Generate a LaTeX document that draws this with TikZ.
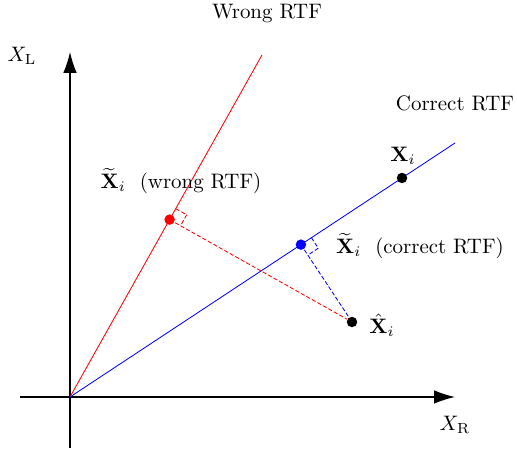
\documentclass[tikz,border=0pt]{standalone}
\usepackage{amsmath}
\usetikzlibrary{arrows.meta,calc}

\begin{document}
\begin{tikzpicture}[
  x=0.478pt, y=0.478pt,
  axis/.style={semithick, -{Latex[length=10pt,width=6.5pt]}},
  dot/.style={circle, fill=#1, inner sep=0pt, minimum size=5pt},
  proj/.style={dash pattern=on 2pt off 1pt, #1},
  lbl/.style={font=\normalsize},
]
\useasboundingbox (0,0) rectangle (517,450);
% ---------- axes ----------
\coordinate (O) at (70,53);
\coordinate (xs) at (20,53);
\coordinate (xe) at (455,53);
\coordinate (ys) at (70,2);
\coordinate (ye) at (70,398);
\draw[axis] (xs) -- (xe);
\draw[axis] (ys) -- (ye);
\node[lbl] (xr) at (455,25) {$X_{\mathrm{R}}$};
\node[lbl] (xl) at (22,394) {$X_{\mathrm{L}}$};

% ---------- RTF lines ----------
\coordinate (we) at (262,395);
\coordinate (ce) at (455,307);
\draw[red] (O) -- (we);
\draw[blue] (O) -- (ce);
\node[lbl] (wl) at (267,436) {Wrong RTF};
\node[lbl] (cl) at (455,347) {Correct RTF};

% ---------- points ----------
\node[dot=black] (xi) at (402,272) {};
\node[dot=black] (xh) at (352,128) {};
\coordinate (pw) at ($(O)!(xh)!(we)$);
\coordinate (pc) at ($(O)!(xh)!(ce)$);

% projections + right angles
\draw[proj=red] (pw) -- (xh);
\draw[proj=blue] (pc) -- (xh);
\coordinate (wa) at ($(pw)!6pt!(we)$);
\coordinate (wb) at ($(pw)!6pt!(xh)$);
\draw[proj=red] (wa) -- ($(wa)+(wb)-(pw)$) -- (wb);
\coordinate (ca) at ($(pc)!6pt!(ce)$);
\coordinate (cb) at ($(pc)!6pt!(xh)$);
\draw[proj=blue] (ca) -- ($(ca)+(cb)-(pc)$) -- (cb);
\node[dot=red] (xw) at (pw) {};
\node[dot=blue] (xc) at (pc) {};

\node[lbl] (xil) at (403,294) {$\mathbf{X}_i$};
\node[lbl] (xhl) at (382,125) {$\hat{\mathbf{X}}_i$};
\node[lbl] (xwl) at (181,269) {$\widetilde{\mathbf{X}}_i$\ \ (wrong RTF)};
\node[lbl] (xcl) at (420,204) {$\widetilde{\mathbf{X}}_i$\ \ (correct RTF)};
\end{tikzpicture}
\end{document}
